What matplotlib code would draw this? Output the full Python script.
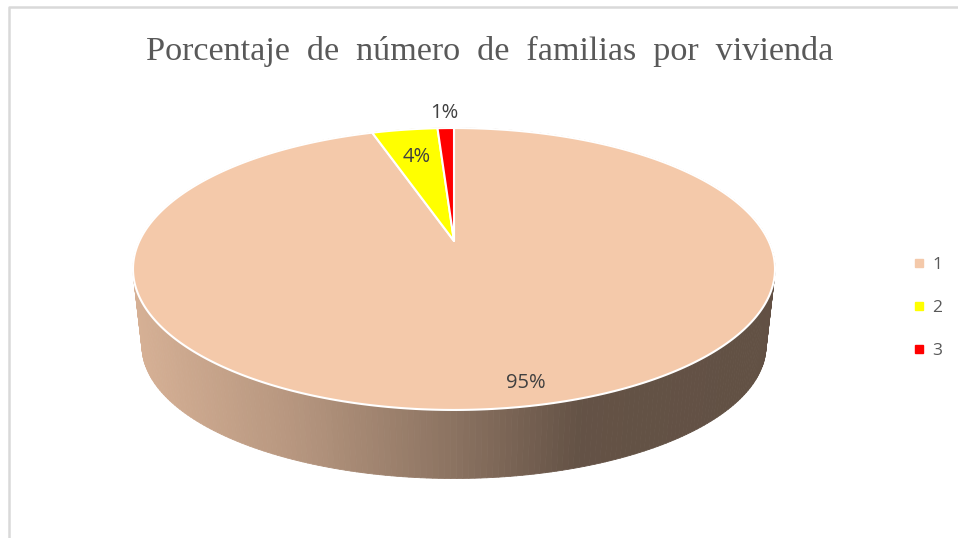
import numpy as np
import matplotlib.pyplot as plt
from matplotlib.patches import Polygon
from matplotlib.collections import PolyCollection
from matplotlib.lines import Line2D
from matplotlib.colors import to_rgb

# data
categorias = ['1', '2', '3']
valores = [95, 4, 1]
colores = ['#F4C9AA', '#FFFF00', '#FF0000']
titulo = 'Porcentaje  de  número  de  familias  por  vivienda'

# 3D pie geometry (pixel space)
cx, cy = 454, 241          # apex of the slices
A, B, k = 314.6, 135.4, 0.1986   # top ellipse + perspective
sx, sy, y0, drop = 0.972, 0.94, 269, 77   # bottom rim relative to top rim
label_r = [0.89, 0.72, 1.17]
label_dt = [3.2, 0, 0]     # degrees nudge of the label angle

def top(t, r=1.0):
    u, v = r * np.cos(t), r * np.sin(t)
    w = 1 + k * v
    return cx + A * u / w, cy - B * v / w

def bottom(t):
    x, y = top(t)
    return cx + sx * (x - cx), y0 + sy * (y - y0) + drop

# shading of the side as a function of x
shade_x = [130, 300, 454, 580, 780]
shade_f = [0.88, 0.74, 0.57, 0.41, 0.40]

fig = plt.figure(figsize=(9.58, 5.38), dpi=100)
ax = fig.add_axes([0, 0, 1, 1])
ax.set_xlim(0, 958)
ax.set_ylim(538, 0)
ax.axis('off')

# frame of the chart area
ax.plot([9, 9, 970], [545, 7, 7], color='#D9D9D9', lw=1.8)

ax.text(490, 60, titulo, family='Liberation Serif', fontsize=24.6,
        color='#595959', ha='center', va='baseline')

total = sum(valores)
frac = np.array(valores) / total
ends = np.pi / 2 - 2 * np.pi * np.cumsum(frac)
starts = np.concatenate([[np.pi / 2], ends[:-1]])

# side strips
strips, cols, depth = [], [], []
for i in range(len(valores)):
    ts = np.linspace(ends[i], starts[i], max(int(400 * frac[i]), 4))
    base = np.array(to_rgb(colores[i]))
    for t1, t2 in zip(ts[:-1], ts[1:]):
        p1, p2 = top(t1), top(t2)
        q1, q2 = bottom(t1), bottom(t2)
        strips.append([p1, p2, q2, q1])
        xm = (p1[0] + p2[0]) / 2
        cols.append(np.clip(base * np.interp(xm, shade_x, shade_f), 0, 1))
        depth.append(np.sin((t1 + t2) / 2))
order = np.argsort(depth)[::-1]
pc = PolyCollection([strips[j] for j in order],
                    facecolors=[cols[j] for j in order],
                    edgecolors=[cols[j] for j in order], linewidths=0.6)
ax.add_collection(pc)

# top faces
for i in range(len(valores)):
    ts = np.linspace(starts[i], ends[i], max(int(600 * frac[i]), 6))
    pts = [(cx, cy)] + [top(t) for t in ts]
    ax.add_patch(Polygon(pts, closed=True, facecolor=colores[i],
                         edgecolor='white', lw=1.5, joinstyle='round'))

# data labels
for i in range(len(valores)):
    mid = (starts[i] + ends[i]) / 2 + np.radians(label_dt[i])
    x, y = top(mid, label_r[i])
    ax.text(x, y, f'{frac[i] * 100:.0f}%', family='Open Sans', fontsize=14.5,
            color='#404040', ha='center', va='center')

handles = [Line2D([], [], marker='s', ls='', color=c, markersize=6)
           for c in colores]
leg = ax.legend(handles, categorias, loc='center left',
                bbox_to_anchor=(912, 308), bbox_transform=ax.transData,
                frameon=False, borderpad=0, borderaxespad=0,
                handlelength=0.8, handletextpad=0.35,
                labelspacing=1.55, prop={'family': 'Open Sans', 'size': 12.5})
for txt in leg.get_texts():
    txt.set_color('#595959')

fig.savefig('out.png', dpi=100)
